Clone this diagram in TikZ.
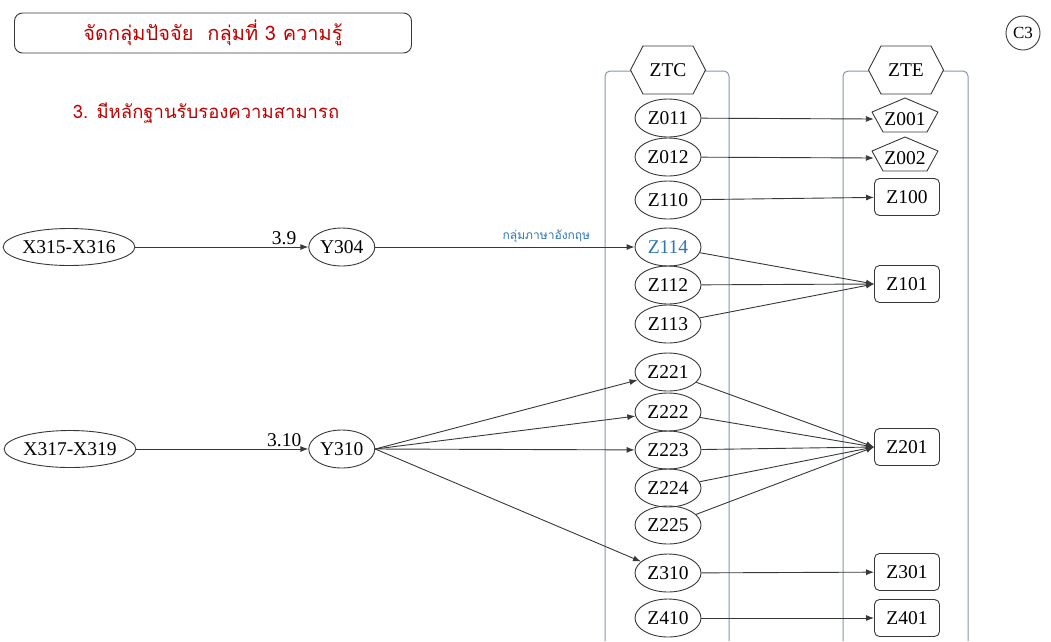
\documentclass[tikz,border=0pt]{standalone}
\usepackage{fontspec}
\setmainfont{Liberation Serif}
\newfontfamily\thaifont[Script=Thai]{Loma}
\usetikzlibrary{arrows.meta,positioning,shapes.geometric,shapes.symbols,calc}
\definecolor{titleRed}{HTML}{C00000}
\definecolor{labelBlue}{HTML}{2E75B6}
\definecolor{laneGray}{HTML}{8497B0}
\definecolor{edgeGray}{HTML}{383838}

\begin{document}
\begin{tikzpicture}[x=1pt, y=-1pt,
    ell/.style={draw=edgeGray, line width=0.9pt, ellipse, minimum width=66pt, minimum height=38pt, inner sep=0pt, font=\fontsize{19.5}{22}\selectfont},
    rbox/.style={draw=edgeGray, line width=0.9pt, rounded corners=5pt, minimum width=65pt, minimum height=37pt, inner sep=0pt, font=\fontsize{19.5}{22}\selectfont},
    pentbox/.style={minimum width=62pt, inner sep=0pt, font=\fontsize{19.5}{22}\selectfont},
    pentline/.style={draw=edgeGray, line width=0.9pt, line join=round},
    hexhead/.style={signal, signal to=east and west, signal pointer angle=125, draw=edgeGray, line width=0.9pt, fill=white, minimum width=75pt, minimum height=48pt, inner sep=0pt, font=\fontsize{19.5}{22}\selectfont},
    lane/.style={draw=laneGray, line width=1pt, rounded corners=5pt},
    link/.style={draw=edgeGray, line width=0.9pt, -{Latex[length=8pt,width=6pt]}},
    lbl/.style={font=\fontsize{19.5}{22}\selectfont, inner sep=1pt}]
  \useasboundingbox (0,0) rectangle (1051,641);

  % title and heading
  \node[draw=edgeGray, line width=0.9pt, rounded corners=8pt, minimum width=397pt, minimum height=40pt, text=titleRed, font=\thaifont\fontsize{20}{24}\selectfont] (title) at (213,33) {จัดกลุ่มปัจจัย\hspace{14pt}กลุ่มที่ 3 ความรู้};
  \node[text=titleRed, font=\thaifont\fontsize{18.5}{22}\selectfont] (head) at (206,113) {3. มีหลักฐานรับรองความสามารถ};
  \node[circle, draw=edgeGray, line width=0.9pt, minimum size=34pt, inner sep=0pt, font=\fontsize{17}{20}\selectfont] (c3) at (1023,33) {C3};

  % lanes
  \draw[lane] (605,641) -- (605,71) -- (729,71) -- (729,641);
  \draw[lane] (843,641) -- (843,71) -- (968,71) -- (968,641);
  \node[hexhead] (ztc) at (668,70) {ZTC};
  \node[hexhead] (zte) at (906,70) {ZTE};

  % left inputs
  \node[ell, minimum width=125pt, minimum height=37pt] (x315) at (69,247) {X315-X316};
  \node[ell, right=173pt of x315] (y304) {Y304};
  \node[ell, minimum width=125pt, minimum height=37pt] (x317) at (70,449) {X317-X319};
  \node[ell, right=172pt of x317] (y310) {Y310};

  % ZTC column
  \foreach \n/\yy in {Z011/118, Z012/157, Z110/200, Z112/285, Z113/324,
                      Z221/372, Z222/412, Z223/450, Z224/488, Z225/525, Z310/573, Z410/618}
    \node[ell] (\n) at (668,\yy) {\n};
  \node[ell, text=labelBlue] (Z114) at (668,247) {Z114};

  % ZTE column
  \node[pentbox] (Z001) at (905,119) {Z001};
  \node[pentbox] (Z002) at (905,158) {Z002};
  \foreach \p in {Z001,Z002}
    \draw[pentline] ($(\p)+(0,-21)$) -- ++(33,14) -- ++(-11,20) -- ++(-44,0) -- ++(-11,-20) -- cycle;
  \foreach \n/\yy in {Z100/197, Z101/284, Z201/447, Z301/572, Z401/618}
    \node[rbox] (\n) at (907,\yy) {\n};

  % connectors
  \draw[link] (x315) -- node[lbl, pos=0.86, above=1pt] {3.9} (y304);
  \draw[link] (x317) -- node[lbl, pos=0.86, above=1pt] {3.10} (y310);
  \draw[link] (y304) -- node[pos=0.66, above=1pt, text=labelBlue, font=\thaifont\fontsize{12}{14}\selectfont] {กลุ่มภาษาอังกฤษ} (Z114);
  \foreach \t in {Z221,Z222,Z223,Z310}
    \draw[link] (y310.east) -- (\t);
  \draw[link] (Z011) -- (Z001.west);
  \draw[link] (Z012) -- (Z002.west);
  \draw[link] (Z110) -- (Z100);
  \foreach \s in {Z114,Z112,Z113}
    \draw[link] (\s) -- (Z101.west);
  \foreach \s in {Z221,Z222,Z223,Z224,Z225}
    \draw[link] (\s) -- (Z201.west);
  \draw[link] (Z310) -- (Z301);
  \draw[link] (Z410) -- (Z401);
\end{tikzpicture}
\end{document}
